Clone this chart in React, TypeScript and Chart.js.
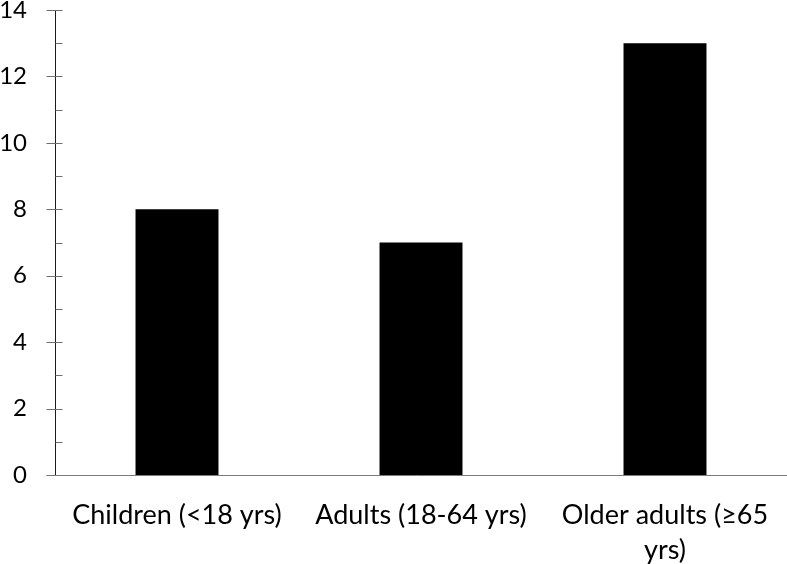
import React, { useEffect, useRef } from "react";
import { Chart, registerables } from "chart.js";

Chart.register(...registerables);

const categories: (string | string[])[] = [
  "Children (<18 yrs)",
  "Adults (18-64 yrs)",
  ["Older adults (≥65", "yrs)"],
];
const values = [8, 7, 13];
const yMin = 0;
const yMax = 14;
const yLabelStep = 2;
const yMinorStep = 1;

const FONT = "Lato, 'Open Sans', sans-serif";

const axesPlugin = {
  id: "axesPlugin",
  afterDraw(chart: any) {
    const { ctx, chartArea, scales } = chart;
    const y = scales.y;
    const left = Math.round(chartArea.left) + 0.5;
    ctx.save();
    ctx.strokeStyle = "#1a1a1a";
    ctx.lineWidth = 1;
    ctx.beginPath();
    ctx.moveTo(left, y.getPixelForValue(yMax));
    ctx.lineTo(left, y.getPixelForValue(yMin));
    ctx.stroke();
    ctx.strokeStyle = "#6e6e6e";
    for (let v = yMin; v <= yMax; v += yMinorStep) {
      const py = Math.round(y.getPixelForValue(v)) + 0.5;
      const major = v % yLabelStep === 0;
      ctx.beginPath();
      ctx.moveTo(major ? left - 9 : left, py);
      ctx.lineTo(left + 7, py);
      ctx.stroke();
    }
    const by = Math.round(y.getPixelForValue(yMin)) + 0.5;
    ctx.strokeStyle = "#7a7a7a";
    ctx.beginPath();
    ctx.moveTo(left - 9, by);
    ctx.lineTo(chartArea.right, by);
    ctx.stroke();
    ctx.restore();
  },
};

export default function App() {
  const ref = useRef<HTMLCanvasElement | null>(null);
  useEffect(() => {
    document.body.style.margin = "0";
    const chart = new Chart(ref.current as HTMLCanvasElement, {
      type: "bar",
      data: {
        labels: categories as any,
        datasets: [
          {
            data: values,
            backgroundColor: "#000000",
            borderWidth: 0,
            barPercentage: 0.34,
            categoryPercentage: 1,
          },
        ],
      },
      options: {
        animation: false,
        responsive: true,
        maintainAspectRatio: false,
        layout: { padding: { top: 10, right: 0, left: 0, bottom: 0 } },
        plugins: { legend: { display: false }, tooltip: { enabled: false } },
        scales: {
          x: {
            grid: { display: false, drawTicks: false },
            border: { display: false },
            ticks: {
              color: "#000",
              padding: 23,
              maxRotation: 0,
              autoSkip: false,
              font: { family: FONT, size: 27, lineHeight: 1.28 },
            },
            afterFit(scale: any) {
              scale.height = 89;
              scale.paddingLeft = 0;
              scale.paddingRight = 0;
            },
          },
          y: {
            min: yMin,
            max: yMax,
            grid: { display: false, drawTicks: false },
            border: { display: false },
            ticks: {
              stepSize: yLabelStep,
              color: "#000",
              padding: 28,
              font: { family: FONT, size: 24 },
            },
            afterFit(scale: any) {
              scale.width = 55;
              scale.paddingTop = 0;
              scale.paddingBottom = 0;
            },
          },
        },
      },
      plugins: [axesPlugin],
    });
    return () => chart.destroy();
  }, []);
  return (
    <div style={{ width: 787, height: 564, position: "relative" }}>
      <canvas ref={ref} />
    </div>
  );
}
